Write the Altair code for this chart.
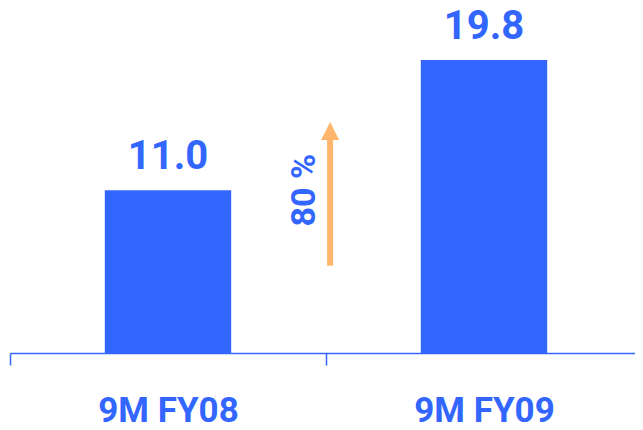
import altair as alt
import pandas as pd

categories = ["9M FY08", "9M FY09"]
values = [11.0, 19.8]
value_labels = ["11.0", "19.8"]

growth_text = ["80 %"]
growth_text_cat = ["9M FY08"]
growth_text_y = [11.0]

arrow_cat = ["9M FY09"]
arrow_start = [5.9]
arrow_end = [14.5]
arrow_head = [15.0]

BLUE = "#3366FF"
ORANGE = "#FFB56B"
FONT = "Roboto"

bars_df = pd.DataFrame({"cat": categories, "val": values, "lab": value_labels})
growth_df = pd.DataFrame({"cat": growth_text_cat, "y": growth_text_y, "t": growth_text})
arrow_df = pd.DataFrame({"cat": arrow_cat, "y0": arrow_start, "y1": arrow_end, "yh": arrow_head})

xscale = alt.Scale(paddingInner=0, paddingOuter=0, range=[0, 632])
yscale = alt.Scale(domain=[0, 23.31], nice=False, zero=True)

xenc = alt.X(
    "cat:N",
    scale=xscale,
    sort=categories,
    title=None,
    axis=alt.Axis(
        tickBand="extent",
        domainColor=BLUE,
        tickColor=BLUE,
        domainWidth=1.5,
        tickWidth=1.5,
        tickSize=12,
        labelAngle=0,
        labelFont=FONT,
        labelFontSize=35,
        labelFontWeight="bold",
        labelColor=BLUE,
        labelPadding=28,
    ),
)

bars = alt.Chart(bars_df).mark_bar(width={"band": 0.4}, color=BLUE).encode(
    x=xenc,
    y=alt.Y("val:Q", scale=yscale, axis=None),
)

labels = alt.Chart(bars_df).mark_text(
    font=FONT, fontSize=40, fontWeight="bold", color=BLUE, baseline="alphabetic", dy=-21
).encode(
    x=alt.X("cat:N", sort=categories),
    y=alt.Y("val:Q", scale=yscale),
    text="lab:N",
)

growth = alt.Chart(growth_df).mark_text(
    font=FONT, fontSize=34, fontWeight="bold", color=BLUE, angle=270,
    align="center", baseline="middle"
).encode(
    x=alt.X("cat:N", sort=categories, bandPosition=0.934),
    y=alt.Y("y:Q", scale=yscale),
    text="t:N",
)

shaft = alt.Chart(arrow_df).mark_rule(color=ORANGE, strokeWidth=6).encode(
    x=alt.X("cat:N", sort=categories, bandPosition=0.013),
    y=alt.Y("y0:Q", scale=yscale),
    y2="y1:Q",
)

head = alt.Chart(arrow_df).mark_point(
    shape="M0,-1L1,1L-1,1Z", size=324, filled=True, color=ORANGE, opacity=1, strokeWidth=0
).encode(
    x=alt.X("cat:N", sort=categories, bandPosition=0.013),
    y=alt.Y("yh:Q", scale=yscale),
)

chart = alt.layer(bars, labels, shaft, head, growth).properties(
    width=625,
    height=345,
    padding={"left": 2, "top": 0, "right": 0, "bottom": 69},
    autosize=alt.AutoSizeParams(type="none"),
).configure_view(stroke=None)

chart.save("out.html", embed_options={"renderer": "svg", "actions": False})
